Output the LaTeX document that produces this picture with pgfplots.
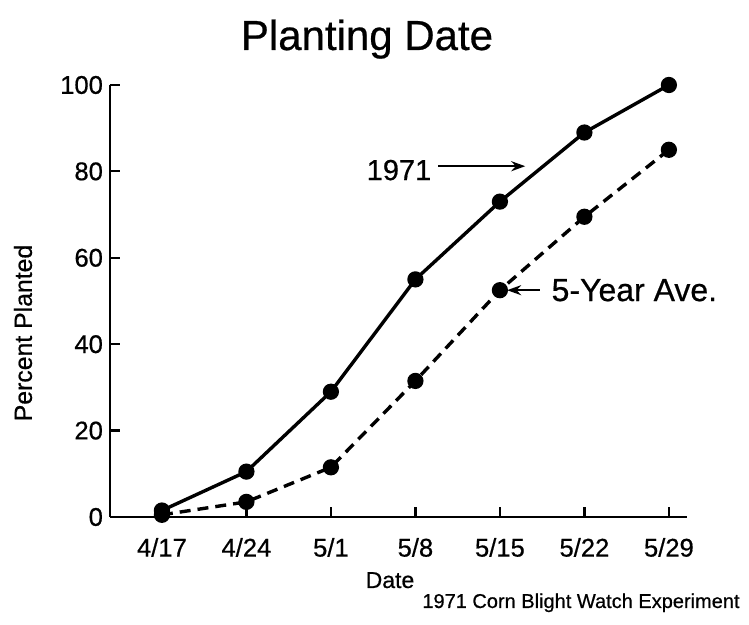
\documentclass[border=0pt]{standalone}
\usepackage{fontspec}
\setmainfont{Liberation Sans}[FakeBold=0.6]
\usepackage{pgfplots}
\pgfplotsset{compat=1.18}
\usetikzlibrary{arrows.meta}

\begin{document}
\begin{tikzpicture}
\useasboundingbox (-55pt,-54pt) rectangle (319.5pt,258.5pt);
\begin{axis}[
  scale only axis,
  width=288.5pt, height=216pt,
  xmin=-4.3, xmax=43.5,
  ymin=0, ymax=100,
  axis x line*=bottom, axis y line*=left,
  axis line style={line width=1.2pt},
  xtick={0,7,14,21,28,35,42},
  xticklabels={4/17,4/24,5/1,5/8,5/15,5/22,5/29},
  ytick={0,20,40,60,80,100},
  tick align=inside,
  major tick length=5pt,
  tick style={line width=1.1pt, black},
  ticklabel style={font=\fontsize{12.8}{14}\selectfont},
  xticklabel style={yshift=-7pt},
  /pgf/number format/assume math mode=true,
  clip=false,
]
% 1971
\addplot[black, line width=1.7pt, mark=*, mark size=3.2pt] coordinates {
  (0,1.5) (7,10.5) (14,29) (21,55) (28,73) (35,89) (42,100)};
% 5-year average
\addplot[black, line width=1.7pt, dash pattern=on 5.5pt off 3.5pt,
  mark=*, mark size=3.2pt, mark options={solid}] coordinates {
  (0,0.5) (7,3.5) (14,11.5) (21,31.5) (28,52.5) (35,69.5) (42,85)};

\node[anchor=east, font=\fontsize{14.5}{16}\selectfont] at (axis cs:22.9,80.3) {1971};
\draw[line width=1.2pt, -{Stealth[length=7pt,width=5pt]}]
  (axis cs:22.9,81.2) -- (axis cs:30.1,81.2);
\node[anchor=west, font=\fontsize{16}{18}\selectfont] at (axis cs:31.7,52.5) {5-Year Ave.};
\draw[line width=1.2pt, -{Stealth[length=7pt,width=5pt]}]
  (axis cs:31.3,52.5) -- (axis cs:28.6,52.5);
\end{axis}

\node[anchor=base, font=\fontsize{21}{25}\selectfont] at (128.5pt,233.5pt) {Planting Date};
\node[anchor=base, font=\fontsize{11.5}{14}\selectfont] at (140pt,-35.5pt) {Date};
\node[rotate=90, font=\fontsize{12.4}{14}\selectfont] at (-43.5pt,92pt) {Percent Planted};
\node[anchor=base west, inner sep=0pt, font=\fontsize{10}{12}\selectfont] at (156pt,-45.5pt) {1971 Corn Blight Watch Experiment};
\end{tikzpicture}
\end{document}
